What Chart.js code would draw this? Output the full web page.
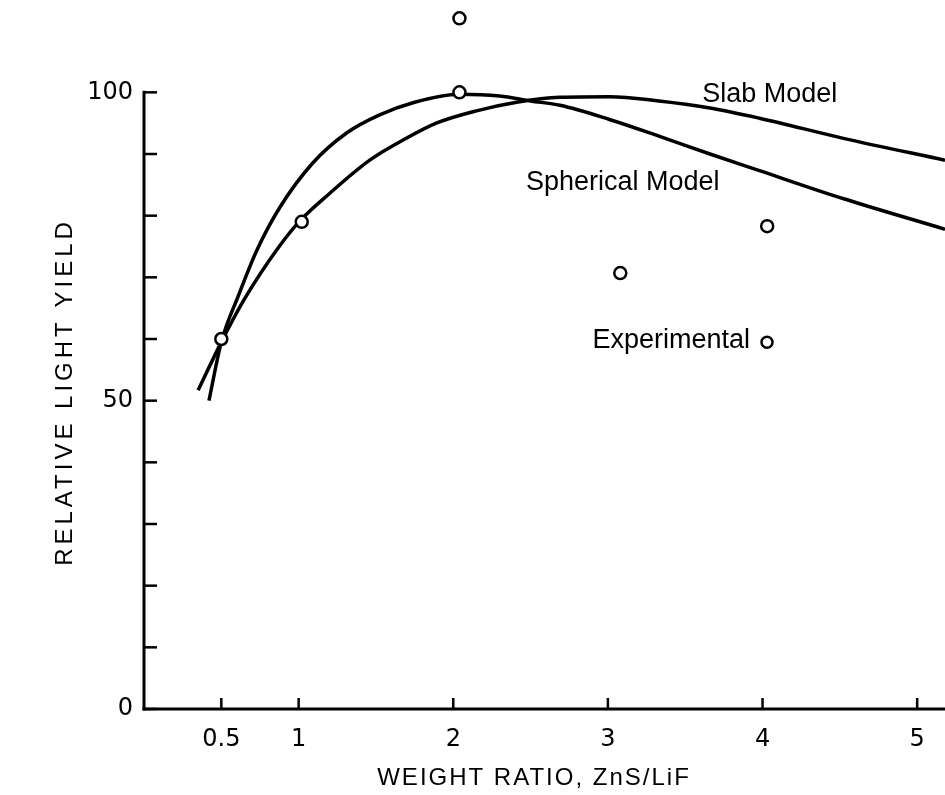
<!DOCTYPE html>
<html>
<head>
<meta charset="utf-8">
<title>Relative light yield vs weight ratio</title>
<script src="https://cdn.jsdelivr.net/npm/chart.js@4.4.1/dist/chart.umd.min.js"></script>
<style>
  html, body { margin: 0; padding: 0; background: #fff; }
  #wrap { width: 945px; height: 795px; position: relative; }
</style>
</head>
<body>
<div id="wrap"><canvas id="yieldChart"></canvas></div>
<script>
/* ---------- data ---------- */
const xTicks = [0.5, 1, 2, 3, 4, 5];
const yTicks = [0, 10, 20, 30, 40, 50, 60, 70, 80, 90, 100];
const yLabelled = [0, 50, 100];

// model curves (weight ratio -> relative yield)
const sphericalX = [0.42, 0.5, 0.61, 0.73, 0.88, 1.09, 1.31, 1.52, 1.75, 2.04, 2.3, 2.5, 2.69, 3.01, 3.33, 3.66, 3.98, 4.53, 5.18];
const sphericalY = [50, 59.5, 67, 74.4, 81.4, 88.5, 93.4, 96.3, 98.4, 99.7, 99.4, 98.6, 97.9, 95.6, 92.9, 90.0, 87.3, 82.7, 77.8];
const slabX = [0.35, 0.5, 0.65, 0.88, 1.01, 1.2, 1.46, 1.7, 1.89, 2.15, 2.41, 2.69, 3.01, 3.33, 3.65, 3.98, 4.53, 5.18];
const slabY = [51.7, 59.5, 66.5, 75.2, 79.2, 83.6, 89.0, 92.6, 95.0, 97.0, 98.4, 99.2, 99.3, 98.6, 97.5, 95.8, 92.5, 89.0];

// measured points
const expX = [0.5, 1.02, 2.04, 2.04, 3.08, 4.03];
const expY = [60, 79, 100, 112, 70.7, 78.3];

const toPoints = (xs, ys) => xs.map((x, i) => ({ x: x, y: ys[i] }));

/* ---------- text placed in data coordinates ---------- */
const notes = [
    { text: 'Slab Model', x: 3.61, y: 99.7 },
    { text: 'Spherical Model', x: 2.47, y: 85.4 },
    { text: 'Experimental', x: 2.90, y: 59.8, marker: true }
];

const INK = '#000';

/* ---------- axes frame, titles and notes ---------- */
const framePlugin = {
    id: 'frame',
    beforeDatasetsDraw(chart) {
        const ctx = chart.ctx;
        const xs = chart.scales.x;
        const ys = chart.scales.y;
        const x0 = xs.getPixelForValue(0);
        const y0 = ys.getPixelForValue(0);
        const yTop = ys.getPixelForValue(100);

        ctx.save();
        ctx.strokeStyle = INK;
        ctx.lineCap = 'square';

        // y axis stops at 100
        ctx.lineWidth = 3;
        ctx.beginPath();
        ctx.moveTo(x0, y0);
        ctx.lineTo(x0, yTop);
        ctx.stroke();

        // x axis runs to the right edge
        ctx.beginPath();
        ctx.moveTo(x0, y0);
        ctx.lineTo(chart.width, y0);
        ctx.stroke();

        // inward tick marks
        ctx.lineWidth = 2.5;
        ctx.lineCap = 'butt';
        yTicks.forEach(v => {
            const py = ys.getPixelForValue(v);
            ctx.beginPath();
            ctx.moveTo(x0, py);
            ctx.lineTo(x0 + 13, py);
            ctx.stroke();
        });
        xTicks.forEach(v => {
            const px = xs.getPixelForValue(v);
            ctx.beginPath();
            ctx.moveTo(px, y0);
            ctx.lineTo(px, y0 - 11);
            ctx.stroke();
        });
        ctx.restore();
    },
    afterDraw(chart) {
        const ctx = chart.ctx;
        const xs = chart.scales.x;
        const ys = chart.scales.y;

        ctx.save();
        ctx.fillStyle = INK;

        // axis titles
        ctx.font = '24px "Liberation Sans", Arial, sans-serif';
        ctx.textAlign = 'center';
        ctx.textBaseline = 'middle';
        ctx.letterSpacing = '2px';
        ctx.fillText('WEIGHT RATIO, ZnS/LiF', 534, 778);

        ctx.save();
        ctx.translate(65, 392);
        ctx.rotate(-Math.PI / 2);
        ctx.letterSpacing = '4px';
        ctx.fillText('RELATIVE LIGHT YIELD', 0, 0);
        ctx.restore();

        // curve labels
        ctx.letterSpacing = '0px';
        ctx.font = '27px "Liberation Sans", Arial, sans-serif';
        ctx.textAlign = 'left';
        notes.forEach(n => {
            const px = xs.getPixelForValue(n.x);
            const py = ys.getPixelForValue(n.y);
            ctx.fillText(n.text, px, py);
            if (n.marker) {
                const w = ctx.measureText(n.text).width;
                ctx.beginPath();
                ctx.arc(px + w + 17, py + 2, 5.5, 0, Math.PI * 2);
                ctx.fillStyle = '#fff';
                ctx.fill();
                ctx.lineWidth = 2.5;
                ctx.strokeStyle = INK;
                ctx.stroke();
                ctx.fillStyle = INK;
            }
        });
        ctx.restore();
    }
};

/* ---------- chart ---------- */
new Chart(document.getElementById('yieldChart').getContext('2d'), {
    type: 'line',
    data: {
        datasets: [
            {
                label: 'Experimental',
                type: 'scatter',
                data: toPoints(expX, expY),
                showLine: false,
                pointStyle: 'circle',
                pointRadius: 6,
                pointBorderWidth: 2.5,
                pointBorderColor: INK,
                pointBackgroundColor: '#fff',
                order: 0
            },
            {
                label: 'Spherical Model',
                data: toPoints(sphericalX, sphericalY),
                borderColor: INK,
                borderWidth: 3.5,
                pointRadius: 0,
                cubicInterpolationMode: 'monotone',
                fill: false,
                order: 1
            },
            {
                label: 'Slab Model',
                data: toPoints(slabX, slabY),
                borderColor: INK,
                borderWidth: 3.5,
                pointRadius: 0,
                cubicInterpolationMode: 'monotone',
                fill: false,
                order: 1
            }
        ]
    },
    options: {
        responsive: true,
        maintainAspectRatio: false,
        animation: false,
        layout: { autoPadding: false, padding: { top: 6, right: 0, bottom: 0, left: 0 } },
        plugins: {
            legend: { display: false },
            tooltip: { enabled: false }
        },
        scales: {
            x: {
                type: 'linear',
                min: 0,
                max: 5.18,
                grid: { display: false, drawTicks: false },
                border: { display: false },
                afterBuildTicks: scale => { scale.ticks = xTicks.map(v => ({ value: v })); },
                afterFit: scale => {
                    scale.height = 86;
                    scale.paddingLeft = 0;
                    scale.paddingRight = 0;
                },
                ticks: {
                    color: INK,
                    padding: 16,
                    maxRotation: 0,
                    autoSkip: false,
                    font: { family: '"DejaVu Sans", sans-serif', size: 24 },
                    callback: v => String(v)
                }
            },
            y: {
                type: 'linear',
                min: 0,
                max: 114,
                grid: { display: false, drawTicks: false },
                border: { display: false },
                afterBuildTicks: scale => { scale.ticks = yTicks.map(v => ({ value: v })); },
                afterFit: scale => {
                    scale.width = 144;
                    scale.paddingTop = 0;
                    scale.paddingBottom = 0;
                },
                ticks: {
                    color: INK,
                    padding: 11,
                    autoSkip: false,
                    font: { family: '"DejaVu Sans", sans-serif', size: 24 },
                    callback: v => (yLabelled.includes(v) ? String(v) : '')
                }
            }
        }
    },
    plugins: [framePlugin]
});
</script>
</body>
</html>
